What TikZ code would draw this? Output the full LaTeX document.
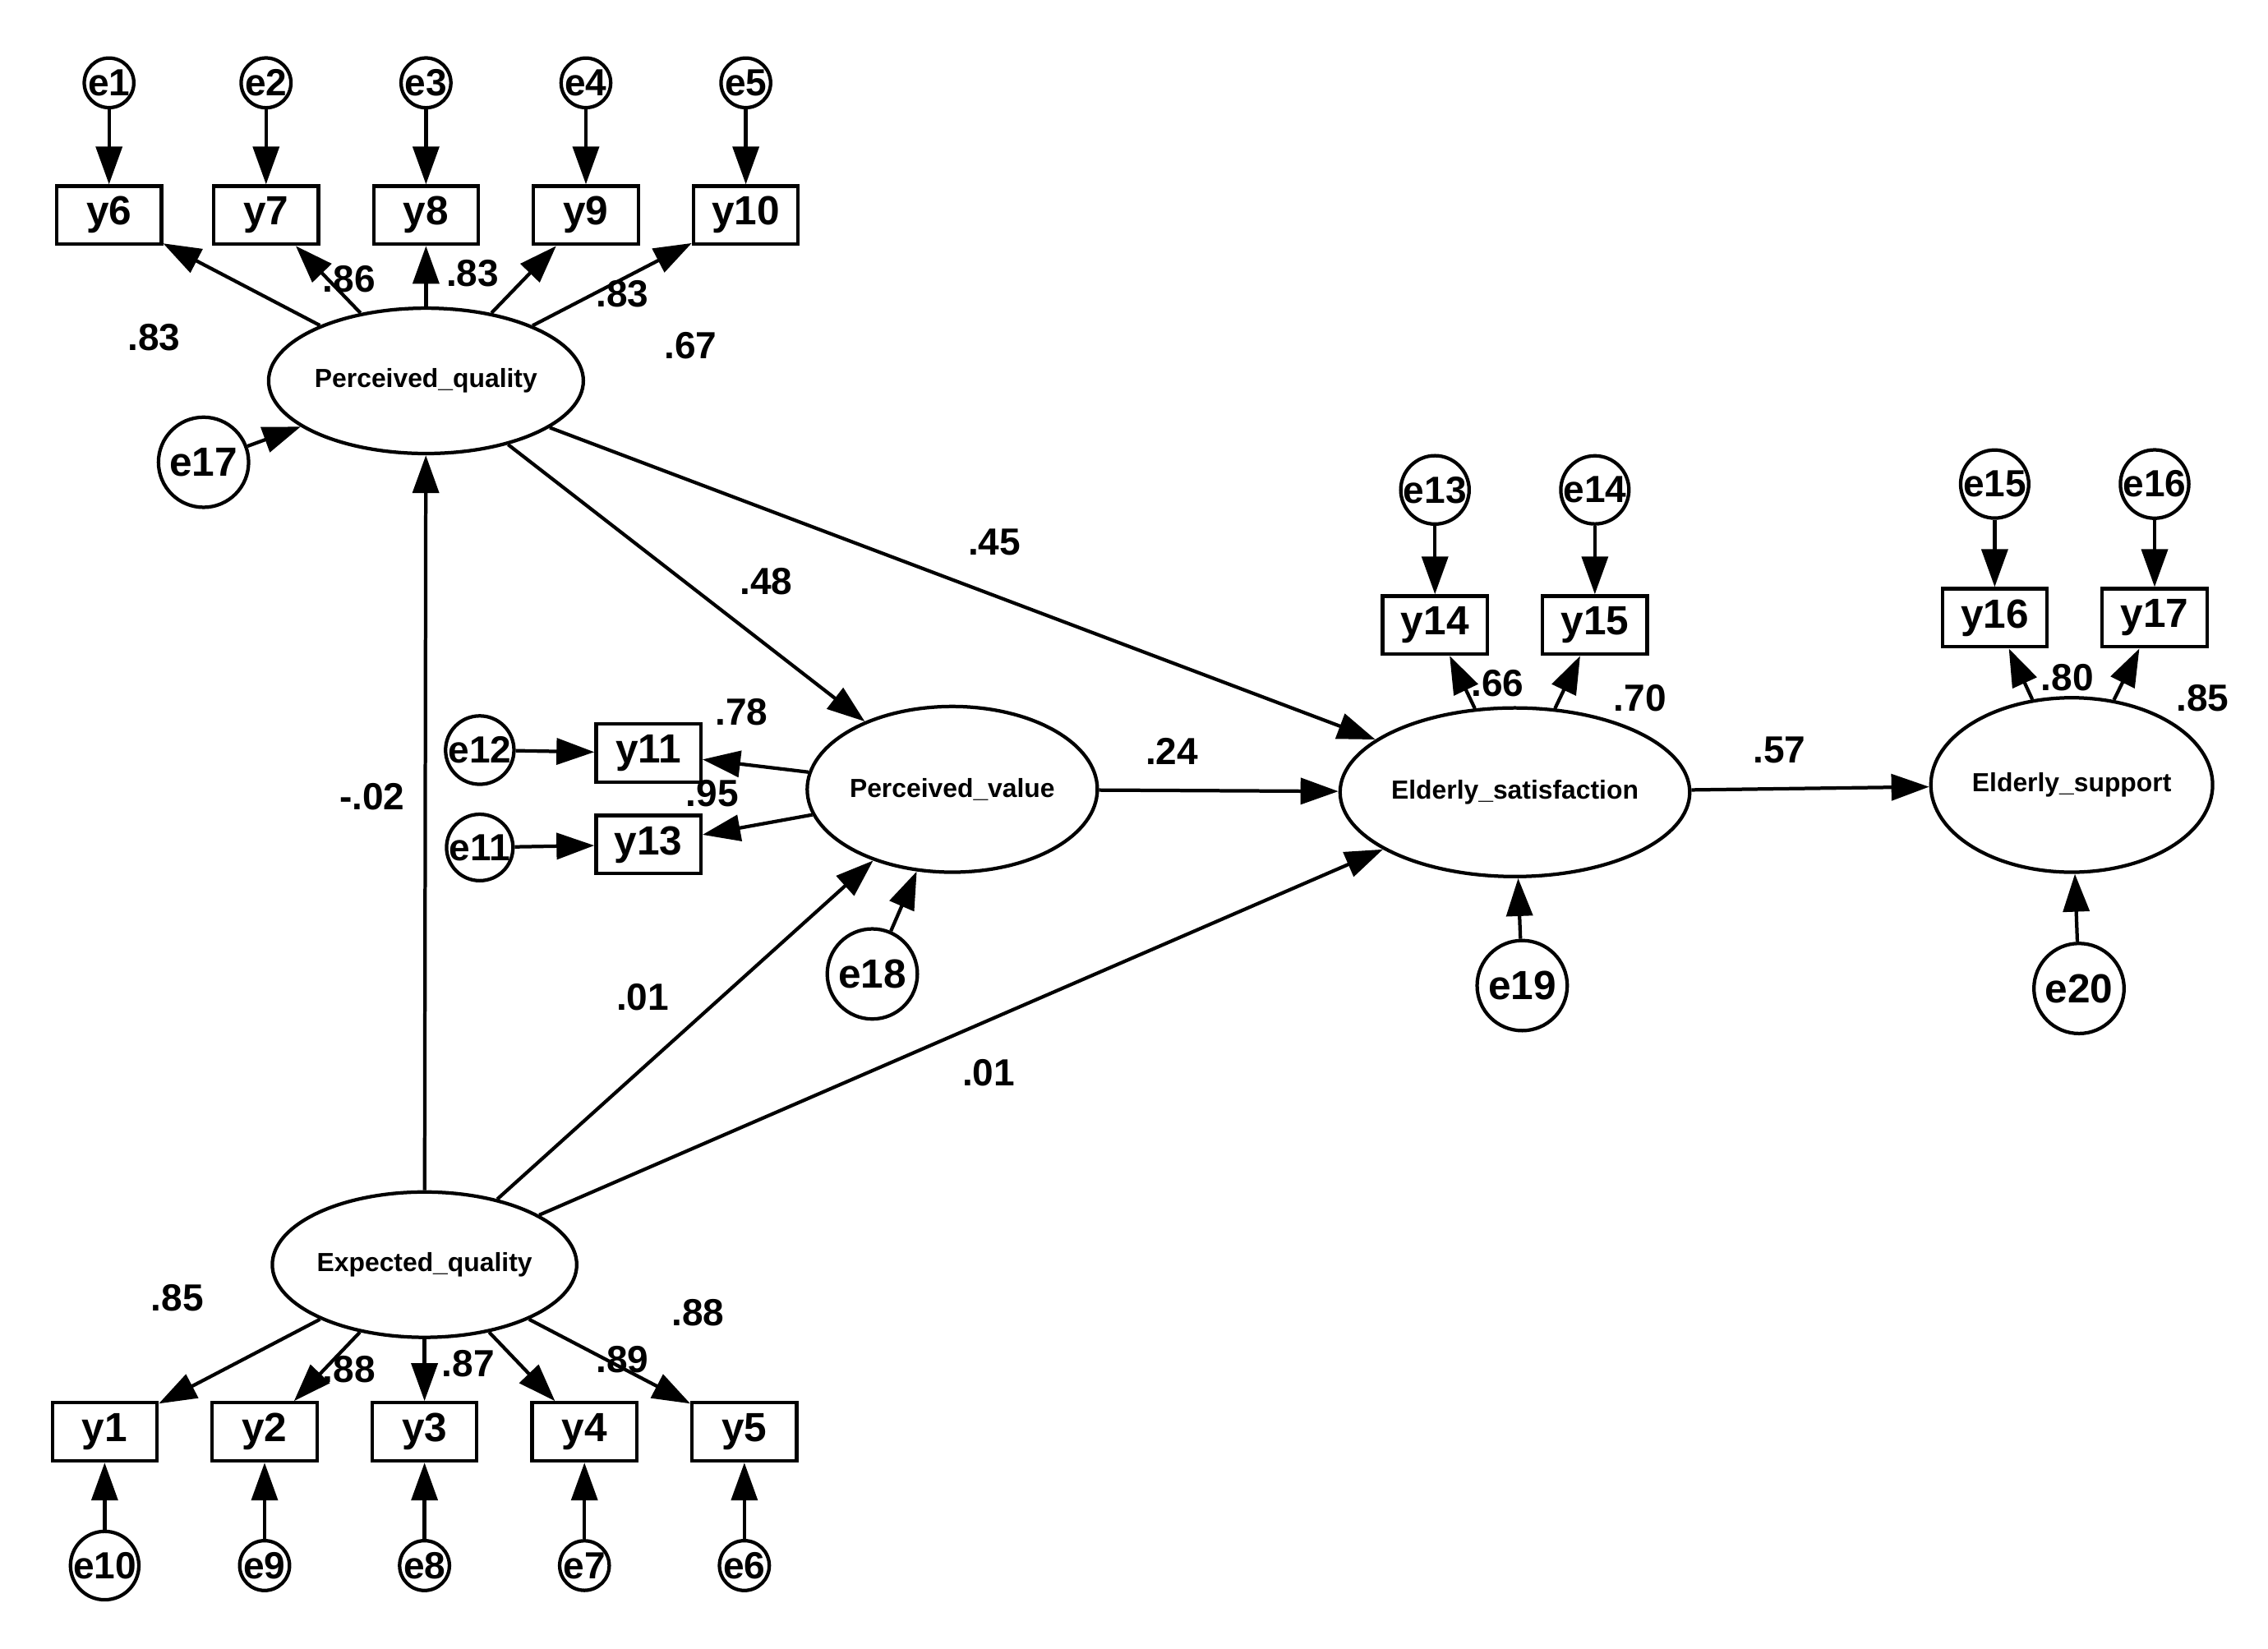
\documentclass[tikz,border=0pt]{standalone}
\usepackage{fontspec}
\setmainfont{Liberation Sans}
\usetikzlibrary{arrows.meta,shapes.geometric}
\begin{document}
\begin{tikzpicture}[x=0.5pt,y=-0.5pt,
 every node/.style={font=\bfseries},
 box/.style={draw,line width=1.2pt,minimum width=36pt,minimum height=20pt,inner sep=0pt,font=\bfseries\fontsize{14}{14}\selectfont},
 err/.style={draw,circle,line width=1.2pt,minimum size=17pt,inner sep=0pt,font=\bfseries\fontsize{13}{13}\selectfont},
 errb/.style={draw,circle,line width=1.2pt,minimum size=31pt,inner sep=0pt,font=\bfseries\fontsize{14}{14}\selectfont},
 lat/.style={draw,ellipse,line width=1.2pt,inner sep=0pt,font=\bfseries\fontsize{9}{9}\selectfont},
 ar/.style={line width=1.2pt,-{Triangle[length=13pt,width=9pt]}},
 lb/.style={font=\bfseries\fontsize{13}{13}\selectfont,inner sep=1pt}]
\useasboundingbox (0,0) rectangle (1560,1134);
% top indicators
\foreach \e/\y/\x in {e1/y6/75,e2/y7/183,e3/y8/293,e4/y9/403,e5/y10/513}{
 \node[err] (\e) at (\x,57) {\e};
 \node[box] (\y) at (\x,148) {\y};
 \draw[ar] (\e) -- (\y);
}
\node[lat,minimum width=95pt,minimum height=50pt] (PQ) at (293,262) {Perceived\_quality};
\node[errb] (e17) at (140,318) {e17};
\draw[ar] (e17) -- (PQ);
\foreach \y in {y6,y7,y8,y9,y10}{\draw[ar] (PQ) -- (\y);}
\node[lb] at (106,232) {.83};
\node[lb] at (240,192) {.86};
\node[lb] at (325,188) {.83};
\node[lb] at (428,202) {.83};
\node[lb] at (475,238) {.67};
% bottom indicators
\node[lat,minimum width=88pt,minimum height=50pt] (EQ) at (292,870) {Expected\_quality};
\foreach \e/\y/\x in {e10/y1/72,e9/y2/182,e8/y3/292,e7/y4/402,e6/y5/512}{
 \node[box] (\y) at (\x,985) {\y};
 \node[err] (\e) at (\x,1077) {\e};
 \draw[ar] (\e) -- (\y);
 \draw[ar] (EQ) -- (\y);
}
\node[lb] at (122,893) {.85};
\node[lb] at (240,942) {.88};
\node[lb] at (322,938) {.87};
\node[lb] at (428,935) {.89};
\node[lb] at (480,903) {.88};
% perceived value
\node[lat,minimum width=95pt,minimum height=57pt] (PV) at (655,543) {Perceived\_value};
\node[box] (y11) at (446,518) {y11};
\node[box] (y13) at (446,581) {y13};
\node[err] (e12) at (330,516) {e12};
\node[err] (e11) at (330,583) {e11};
\draw[ar] (e12) -- (y11);
\draw[ar] (e11) -- (y13);
\draw[ar] (PV) -- (y11);
\draw[ar] (PV) -- (y13);
\node[lb] at (510,490) {.78};
\node[lb] at (490,546) {.95};
\node[errb] (e18) at (600,670) {e18};
\draw[ar] (e18) -- (PV);
% satisfaction
\node[lat,minimum width=105pt,minimum height=58pt] (ES) at (1042,545) {Elderly\_satisfaction};
\node[box] (y14) at (987,430) {y14};
\node[box] (y15) at (1097,430) {y15};
\node[err] (e13) at (987,337) {e13};
\node[err] (e14) at (1097,337) {e14};
\draw[ar] (e13) -- (y14);
\draw[ar] (e14) -- (y15);
\draw[ar] (ES) -- (y14);
\draw[ar] (ES) -- (y15);
\node[lb] at (1030,470) {.66};
\node[lb] at (1128,480) {.70};
\node[errb] (e19) at (1047,678) {e19};
\draw[ar] (e19) -- (ES);
% support
\node[lat,minimum width=85pt,minimum height=60pt] (SU) at (1425,540) {Elderly\_support};
\node[box] (y16) at (1372,425) {y16};
\node[box] (y17) at (1482,425) {y17};
\node[err] (e15) at (1372,333) {e15};
\node[err] (e16) at (1482,333) {e16};
\draw[ar] (e15) -- (y16);
\draw[ar] (e16) -- (y17);
\draw[ar] (SU) -- (y16);
\draw[ar] (SU) -- (y17);
\node[lb] at (1422,466) {.80};
\node[lb] at (1515,480) {.85};
\node[errb] (e20) at (1430,680) {e20};
\draw[ar] (e20) -- (SU);
% structural paths
\draw[ar] (EQ) -- (PQ);
\node[lb] at (256,548) {-.02};
\draw[ar] (PQ) -- (PV);
\node[lb] at (527,400) {.48};
\draw[ar] (PQ) -- (ES);
\node[lb] at (684,373) {.45};
\draw[ar] (EQ) -- (PV);
\node[lb] at (442,686) {.01};
\draw[ar] (EQ) -- (ES);
\node[lb] at (680,738) {.01};
\draw[ar] (PV) -- (ES);
\node[lb] at (806,517) {.24};
\draw[ar] (ES) -- (SU);
\node[lb] at (1224,516) {.57};
\end{tikzpicture}
\end{document}
